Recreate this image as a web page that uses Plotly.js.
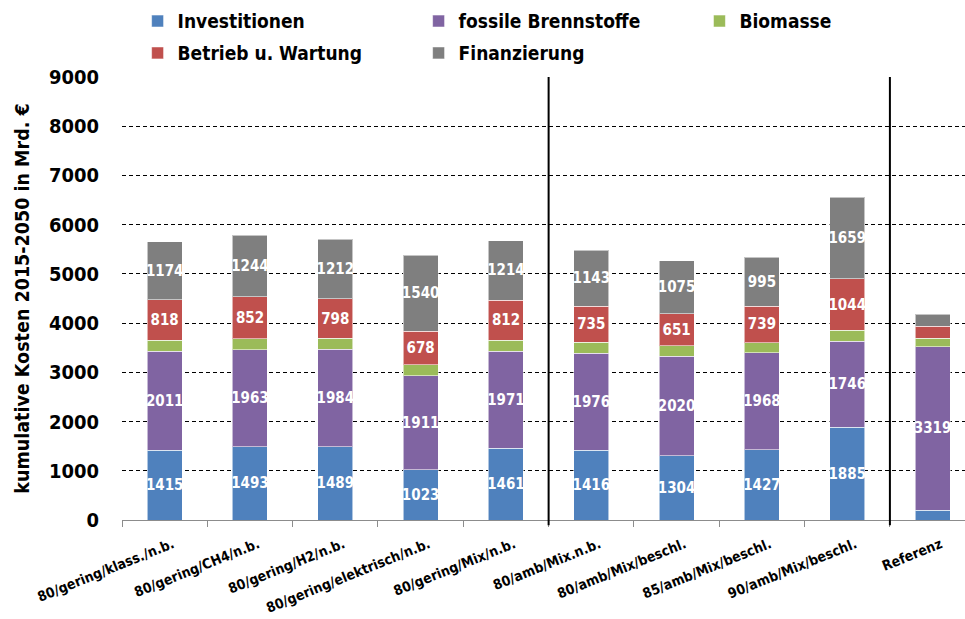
<!DOCTYPE html>
<html>
<head>
<meta charset="utf-8">
<script src="https://cdn.plot.ly/plotly-3.0.1.min.js"></script>
<style>
  html, body { margin: 0; padding: 0; background: #fff; }
  #chart { width: 965px; height: 619px; }
</style>
</head>
<body>
<div id="chart"></div>
<script>
// Scenario names (x categories)
const scenarios = [
  '80/gering/klass./n.b.',
  '80/gering/CH4/n.b.',
  '80/gering/H2/n.b.',
  '80/gering/elektrisch/n.b.',
  '80/gering/Mix/n.b.',
  '80/amb/Mix.n.b.',
  '80/amb/Mix/beschl.',
  '85/amb/Mix/beschl.',
  '90/amb/Mix/beschl.',
  'Referenz'
];

// Cumulative costs 2015-2050 in bn EUR, per cost component
const investitionen      = [1415, 1493, 1489, 1023, 1461, 1416, 1304, 1427, 1885, 200];
const fossileBrennstoffe = [2011, 1963, 1984, 1911, 1971, 1976, 2020, 1968, 1746, 3319];
const biomasse           = [230, 230, 220, 225, 220, 215, 215, 210, 225, 175];
const betriebWartung     = [818, 852, 798, 678, 812, 735, 651, 739, 1044, 240];
const finanzierung       = [1174, 1244, 1212, 1540, 1214, 1143, 1075, 995, 1659, 250];

// y axis ticks
const yTicks = [0, 1000, 2000, 3000, 4000, 5000, 6000, 7000, 8000, 9000];

// The reference scenario only carries a value label on the fossil fuel segment
const referenzIndex = scenarios.indexOf('Referenz');

const FONT = '"DejaVu Sans Condensed", "Liberation Sans Narrow", "Arial Narrow", "DejaVu Sans", sans-serif';

function labels(values, labelReferenz) {
  return values.map((v, i) => (i === referenzIndex && !labelReferenz) ? '' : String(v));
}

function series(name, values, color, text, legend) {
  return {
    type: 'bar',
    name: name,
    x: scenarios,
    y: values,
    marker: { color: color, line: { color: 'rgba(255,255,255,0.55)', width: 1 } },
    text: text,
    textposition: text ? 'inside' : 'none',
    insidetextanchor: 'middle',
    textangle: 0,
    constraintext: 'none',
    textfont: { family: FONT, size: 15, color: '#ffffff', weight: 'bold' },
    legend: legend,
    hoverinfo: 'x+y+name'
  };
}

const traces = [
  series('Investitionen', investitionen, '#4F81BD', labels(investitionen, false), 'legend'),
  series('fossile Brennstoffe', fossileBrennstoffe, '#8064A2', labels(fossileBrennstoffe, true), 'legend'),
  series('Biomasse', biomasse, '#9BBB59', null, 'legend3'),
  series('Betrieb u. Wartung', betriebWartung, '#C0504D', labels(betriebWartung, false), 'legend2'),
  series('Finanzierung', finanzierung, '#7F7F7F', labels(finanzierung, false), 'legend2')
];

// Legend grid: three columns, two rows above the plot
const legendCommon = {
  orientation: 'h',
  xanchor: 'left',
  yanchor: 'middle',
  entrywidth: 236,
  entrywidthmode: 'pixels',
  traceorder: 'normal',
  font: { family: FONT, size: 19, color: '#000', weight: 'bold' },
  bgcolor: 'rgba(0,0,0,0)',
  borderwidth: 0
};

const layout = {
  width: 965,
  height: 619,
  margin: { l: 122, r: 0, t: 77, b: 99, autoexpand: false },
  paper_bgcolor: '#ffffff',
  plot_bgcolor: '#ffffff',
  barmode: 'stack',
  bargap: 0.59,
  showlegend: true,
  legend:  Object.assign({}, legendCommon, { x: 0.0185, y: 1.126 }),
  legend3: Object.assign({}, legendCommon, { x: 0.685, y: 1.126 }),
  legend2: Object.assign({}, legendCommon, { x: 0.0185, y: 1.054 }),
  font: { family: FONT, color: '#000' },
  xaxis: {
    type: 'category',
    range: [-0.5, 9.38],
    tickson: 'boundaries',
    ticks: 'outside',
    ticklen: 6,
    tickcolor: '#8c8c8c',
    showline: true,
    linecolor: '#8c8c8c',
    linewidth: 1,
    showgrid: false,
    tickangle: -22,
    ticklabelstandoff: 10,
    ticklabelshift: 8,
    tickfont: { family: FONT, size: 14, color: '#000', weight: 'bold' },
    fixedrange: true
  },
  yaxis: {
    range: [0, 9000],
    tickvals: yTicks,
    ticktext: yTicks.map(String),
    showgrid: true,
    gridcolor: '#000000',
    gridwidth: 1,
    griddash: '4px,3px',
    zeroline: false,
    showline: false,
    ticks: '',
    ticklabelstandoff: 22,
    tickfont: { family: FONT, size: 20, color: '#000', weight: 'bold' },
    title: {
      text: 'kumulative Kosten 2015-2050 in Mrd. €',
      font: { family: FONT, size: 19.5, color: '#000', weight: 'bold' },
      standoff: 14
    },
    fixedrange: true
  },
  shapes: [4.5, 8.5].map(xv => ({
    type: 'line',
    xref: 'x', yref: 'paper',
    x0: xv, x1: xv, y0: -0.012, y1: 1,
    line: { color: '#000000', width: 2 }
  }))
};

Plotly.newPlot('chart', traces, layout, { displayModeBar: false, staticPlot: true });
</script>
</body>
</html>
